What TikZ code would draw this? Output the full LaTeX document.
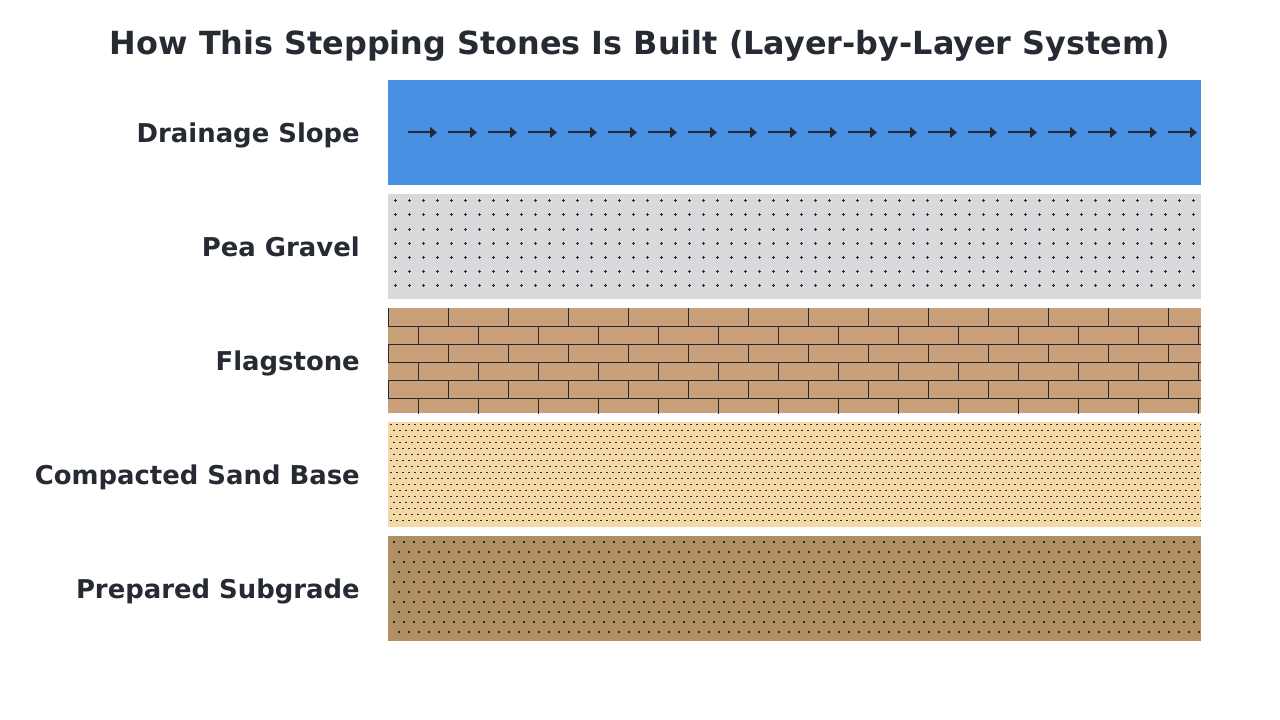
\documentclass[tikz,border=0pt]{standalone}
\usepackage{fontspec}
\setmainfont{DejaVu Sans}
\usetikzlibrary{arrows.meta, positioning}
\definecolor{ink}{HTML}{262A33}
\definecolor{slopeblue}{HTML}{4A90E2}
\definecolor{gravelgray}{HTML}{D9D9DB}
\definecolor{flagtan}{HTML}{C9A07A}
\definecolor{sandbeige}{HTML}{F4D9A6}
\definecolor{soilbrown}{HTML}{B08F63}

\begin{document}
\begin{tikzpicture}[
    x=1bp, y=-1bp,
    every node/.style={text=ink},
    layer/.style={inner sep=0, outer sep=0, minimum width=813bp, minimum height=105bp},
    lbl/.style={anchor=base east, inner sep=0, font=\fontsize{26}{31}\selectfont\bfseries},
    flow/.style={-{Triangle[length=7bp,width=11bp]}, line width=2bp, ink},
    grit/.style={ink, line width=1bp},
    mortar/.style={ink, line width=1bp},
]
\path[use as bounding box] (0,0) rectangle (1280,720);
% title
\node[anchor=base, inner sep=0, font=\fontsize{32}{38}\selectfont\bfseries] (title) at (640,55)
     {How This Stepping Stones Is Built (Layer-by-Layer System)};
% the five layers, top to bottom
\node[layer, fill=slopeblue]  (slope)    at (794.5,132.5) {};
\node[layer, fill=gravelgray] (gravel)   at (794.5,246.5) {};
\node[layer, fill=flagtan]    (flag)     at (794.5,360.5) {};
\node[layer, fill=sandbeige]  (sand)     at (794.5,474.5) {};
\node[layer, fill=soilbrown]  (subgrade) at (794.5,588.5) {};
% labels on the left
\node[lbl] (slopelbl)    at (360,142.5) {Drainage Slope};
\node[lbl] (gravellbl)   at (360,256.5) {Pea Gravel};
\node[lbl] (flaglbl)     at (360,370.5) {Flagstone};
\node[lbl] (sandlbl)     at (360,484.5) {Compacted Sand Base};
\node[lbl] (subgradelbl) at (360,598.5) {Prepared Subgrade};
% drainage arrows
\foreach \i in {0,...,19}
   \draw[flow] ({408+40*\i},132.5) -- ++(29,0);
% pea gravel: small crosses
\begin{scope}
  \clip (gravel.north west) rectangle (gravel.south east);
  \foreach \i in {0,...,57}
    \foreach \j in {0,...,6}
      \draw[grit] ({393.5+14*\i},{201+14*\j}) -- ++(3,0)
                  ({395+14*\i},{199.5+14*\j}) -- ++(0,3);
\end{scope}
% flagstone: running bond
\begin{scope}
  \clip (flag.north west) rectangle (flag.south east);
  \foreach \r in {1,...,5}
    \draw[mortar] (388,{308+18*\r}) -- (1201,{308+18*\r});
  \foreach \r in {0,...,5}
    \foreach \k in {0,...,13}
      \draw[mortar] ({388.5+30*mod(\r,2)+60*\k},{308+18*\r}) -- ++(0,18);
\end{scope}
% compacted sand: staggered dashes
\begin{scope}
  \clip (sand.north west) rectangle (sand.south east);
  \foreach \j in {0,...,16}
    \draw[grit, dash pattern=on 2bp off 4bp]
         ({390+3*mod(\j,2)},{424.5+6*\j}) -- (1201,{424.5+6*\j});
\end{scope}
% subgrade: staggered dots
\begin{scope}
  \clip (subgrade.north west) rectangle (subgrade.south east);
  \foreach \j in {0,...,9}
    \draw[ink, line width=2bp, dash pattern=on 2bp off 8bp]
         ({393+5*mod(\j,2)},{541.7+10*\j}) -- (1201,{541.7+10*\j});
\end{scope}
\end{tikzpicture}
\end{document}
